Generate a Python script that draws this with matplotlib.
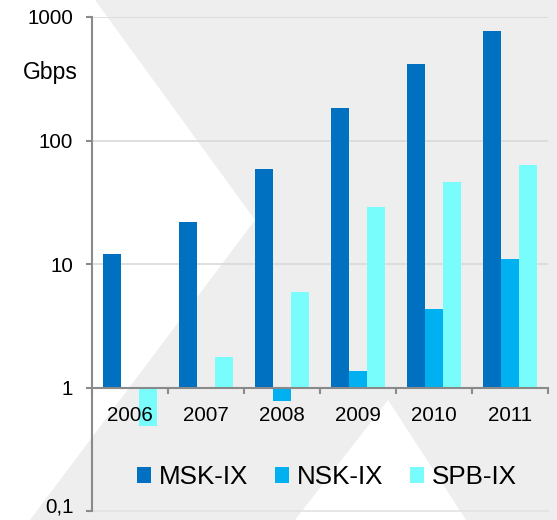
import numpy as np
import matplotlib
matplotlib.use("Agg")
import matplotlib.pyplot as plt
from matplotlib.patches import Polygon, Patch

plt.rcParams['font.family'] = ['Liberation Sans', 'DejaVu Sans']

# data (Gbps, log scale, bars start at 1)
years = ['2006', '2007', '2008', '2009', '2010', '2011']
msk_ix = [12, 22, 59, 182, 420, 765]
nsk_ix = [np.nan, np.nan, 0.78, 1.37, 4.35, 10.9]
spb_ix = [0.49, 1.78, 5.9, 28.7, 46.5, 63]

series_names = ['MSK-IX', 'NSK-IX', 'SPB-IX']
colors = ['#0070C0', '#00B0F0', '#78FCFC']

W, H = 557, 520
fig = plt.figure(figsize=(W / 100, H / 100), dpi=100)
fig.patch.set_facecolor('#eeeeee')

# white watermark shapes over the grey background (pixel coords -> figure fraction)
def px(points):
    return [(x / W, 1 - y / H) for x, y in points]

fig.add_artist(Polygon(px([(0, 0), (95, 0), (255, 220), (30, 520), (0, 520)]),
                       closed=True, facecolor='white', edgecolor='none',
                       transform=fig.transFigure, zorder=0))
fig.add_artist(Polygon(px([(388, 400), (295, 520), (466, 520)]),
                       closed=True, facecolor='white', edgecolor='none',
                       transform=fig.transFigure, zorder=0))

ax = fig.add_axes([92 / W, 9 / H, 456 / W, 494 / H])
ax.set_facecolor('none')
ax.set_yscale('log')
ax.set_ylim(0.1, 1000)
ax.set_xlim(-0.5, len(years) - 0.5)

x = np.arange(len(years))
bw = 0.237
for i, (vals, c) in enumerate(zip([msk_ix, nsk_ix, spb_ix], colors)):
    v = np.array(vals, dtype=float)
    ax.bar(x + (i - 1) * bw, v - 1, bottom=1, width=bw, color=c,
           edgecolor='none', zorder=2)

# grid
for g in [10, 100, 1000]:
    ax.axhline(g, color='#d9d9d9', lw=1.2, zorder=1)
ax.axhline(0.1, color='#e2e2e2', lw=1.2, zorder=1, clip_on=False)

for s in ['top', 'right']:
    ax.spines[s].set_visible(False)
ax.spines['left'].set_color('#8a8a8a')
ax.spines['left'].set_linewidth(1.5)
ax.spines['bottom'].set_position(('data', 1))
ax.spines['bottom'].set_color('#8a8a8a')
ax.spines['bottom'].set_linewidth(1.5)
ax.spines['bottom'].set_zorder(4)

ax.set_yticks([0.1, 1, 10, 100, 1000])
ax.set_yticklabels(['', '1', '10', '100', '1000'])
ax.yaxis.set_minor_locator(plt.NullLocator())
ax.tick_params(axis='y', which='major', length=4.5, width=1.5, color='#8a8a8a',
               pad=9, labelsize=14.8)
# bottom label nudged up a little so it stays inside the picture
ax.annotate('0,1', xy=(0, 0.1), xycoords=('axes fraction', 'data'),
            xytext=(-13.5, 3), textcoords='offset points',
            ha='right', va='center', fontsize=14.8, annotation_clip=False)

ax.set_xticks(np.arange(len(years) + 1) - 0.5)
ax.set_xticklabels([])
ax.set_xticks(x, minor=True)
ax.set_xticklabels(years, minor=True)
ax.tick_params(axis='x', which='major', length=4.5, width=1.5, color='#8a8a8a',
               direction='out')
ax.tick_params(axis='x', which='minor', length=0, pad=13, labelsize=14.8)
ax.xaxis.set_zorder(5)

fig.text(50 / W, 1 - 72 / H, 'Gbps', fontsize=16.5, ha='center', va='center')

handles = [Patch(facecolor=c, edgecolor='none') for c in colors]
ax.legend(handles, series_names, loc='center', ncol=3, frameon=False,
          bbox_to_anchor=(327 / W, 1 - 477 / H), bbox_transform=fig.transFigure,
          fontsize=18.7, handlelength=0.54, handleheight=0.54, handletextpad=0.28,
          columnspacing=1.05, borderaxespad=0)

fig.savefig('out.png', dpi=100, facecolor=fig.get_facecolor())
